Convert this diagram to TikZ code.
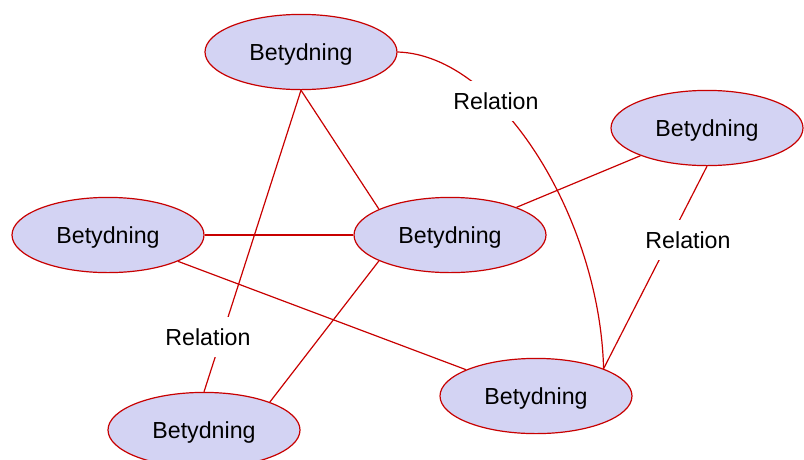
\documentclass[tikz,border=0pt]{standalone}
\usepackage{fontspec}
\setmainfont{Liberation Sans}
\usetikzlibrary{shapes.geometric}
\definecolor{betfill}{RGB}{211,211,243}
\definecolor{betline}{RGB}{200,0,0}

\begin{document}
\begin{tikzpicture}[font=\fontsize{16.5}{20}\selectfont,
  bet/.style={ellipse,draw=betline,fill=betfill,line width=0.85pt,minimum width=4.8cm,minimum height=1.88cm,inner sep=0pt,text depth=0pt},
  rel/.style={fill=white,inner sep=8pt},
  line/.style={draw=betline,line width=0.85pt}]
\useasboundingbox (0,0) rectangle (20.1,-11.475);
\node[bet] (a) at (7.525,-1.3) {Betydning};
\node[bet] (b) at (17.675,-3.2) {Betydning};
\node[bet] (c) at (2.7,-5.875) {Betydning};
\node[bet] (d) at (11.25,-5.875) {Betydning};
\node[bet] (e) at (13.4,-9.9) {Betydning};
\node[bet] (f) at (5.1,-10.75) {Betydning};

\path[every edge/.style={line}]
(a.south) edge (d.160)
(a.south) edge (f.north)
(c) edge (d)
(c) edge (e)
(d) edge (b)
(d.200) edge (f.23)
(b.south) edge (e.22);
\draw[line] (a.east) .. controls (12.5,-1.375) and (15,-5.5) .. (e.22);

\node[rel] (r1) at (12.4,-2.525) {Relation};
\node[rel] (r2) at (5.2,-8.425) {Relation};
\node[rel] (r3) at (17.2,-6.0) {Relation};
\end{tikzpicture}
\end{document}
